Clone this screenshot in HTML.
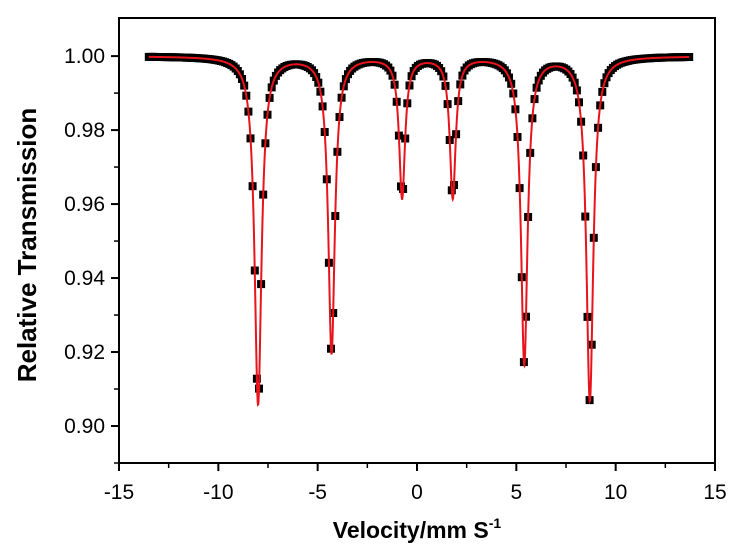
<!DOCTYPE html>
<html><head><meta charset="utf-8"><style>
html,body{margin:0;padding:0;background:#fff;}
svg{display:block;font-family:"Liberation Sans",Arial,sans-serif;}
</style></head><body>
<svg id="chart" width="746" height="552">
<rect x="119" y="18" width="596" height="445" fill="none" stroke="#000" stroke-width="2"/>
<g id="marks"></g>
<g id="axes"></g>
<text x="417" y="538" text-anchor="middle" font-size="23" font-weight="bold">Velocity/mm S<tspan dy="-10" font-size="14">-1</tspan></text>
<text transform="translate(36,245) rotate(-90)" text-anchor="middle" font-size="26" font-weight="bold">Relative Transmission</text>
</svg>
<script>
const peakPositions=[-8.0,-4.3,-0.75,1.8,5.4,8.7];
const peakDepths=[0.094,0.080,0.038,0.038,0.083,0.093];
const peakHalfWidths=[0.21,0.2,0.18,0.18,0.2,0.21];
const baseline=[1.0];
const velocityRange=[-13.5,13.7];
const xTicks=[-15,-10,-5,0,5,10,15];
const yTicks=[0.90,0.92,0.94,0.96,0.98,1.00];
const NS='http://www.w3.org/2000/svg';
const X0=119,X1=715,Y0=463,Y1=18;
const xMin=-15,xMax=15,yMin=0.89,yMax=1.0103;
function xs(v){return X0+(v-xMin)/(xMax-xMin)*(X1-X0);}
function ys(v){return Y0-(v-yMin)/(yMax-yMin)*(Y0-Y1);}
function model(v){let t=baseline[0];for(let i=0;i<peakPositions.length;i++){const h=peakHalfWidths[i]*peakHalfWidths[i];const d=v-peakPositions[i];t-=peakDepths[i]*h/(d*d+h);}return t;}
const marks=document.getElementById('marks'),axes=document.getElementById('axes');
function el(tag,attrs,parent){const e=document.createElementNS(NS,tag);for(const k in attrs)e.setAttribute(k,attrs[k]);parent.appendChild(e);return e;}
const n=256,step=(velocityRange[1]-velocityRange[0])/(n-1);
const pts=el('g',{},marks);


for(let i=0;i<n;i++){const v=velocityRange[0]+i*step;const y=model(v);
 const r=el('rect',{x:(xs(v)-4).toFixed(1),y:(ys(y)-4).toFixed(1),width:8,height:8,fill:'#000'},pts);
 
 }
let d='';for(let i=0;i<=2000;i++){const v=velocityRange[0]+i*(velocityRange[1]-velocityRange[0])/2000;d+=(i?'L':'M')+xs(v).toFixed(2)+' '+ys(model(v)).toFixed(2);}
const fit=el('path',{d:d,fill:'none',stroke:'#e8131b','stroke-width':2},marks);


xTicks.forEach((t,i)=>{const x=xs(t);el('line',{x1:x,x2:x,y1:Y0,y2:Y0+8,stroke:'#000','stroke-width':2},axes);
 if(i<xTicks.length-1){const xm=xs(t+2.5);el('line',{x1:xm,x2:xm,y1:Y0,y2:Y0+5,stroke:'#000','stroke-width':1.5},axes);}
 const tx=el('text',{x:x,y:Y0+36,'text-anchor':'middle','font-size':21},axes);tx.textContent=t;
 
 });
yTicks.forEach((t,i)=>{const y=ys(t);el('line',{x1:X0-8,x2:X0,y1:y,y2:y,stroke:'#000','stroke-width':2},axes);
 const ym=ys(t-0.01);el('line',{x1:X0-5,x2:X0,y1:ym,y2:ym,stroke:'#000','stroke-width':1.5},axes);
 const tx=el('text',{x:X0-14,y:y+7,'text-anchor':'end','font-size':21},axes);tx.textContent=t.toFixed(2);
 
 });
</script>
</body></html>
